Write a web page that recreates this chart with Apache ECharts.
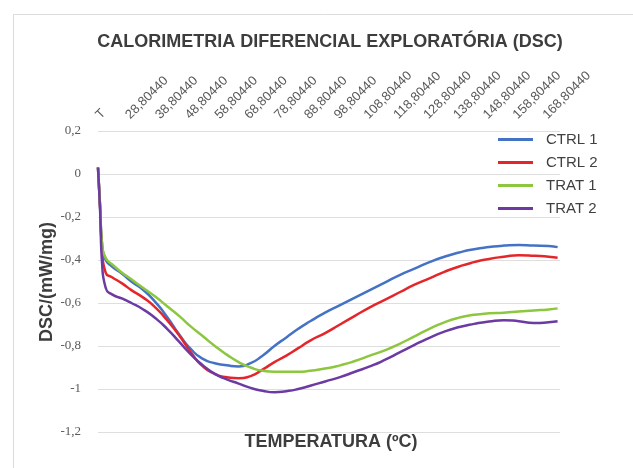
<!DOCTYPE html>
<html>
<head>
<meta charset="utf-8">
<script src="https://cdn.jsdelivr.net/npm/echarts@6/dist/echarts.min.js"></script>
<style>
html,body{margin:0;padding:0;background:#fff;}
#chart{width:633px;height:468px;}
</style>
</head>
<body>
<div id="chart"></div>
<script>
// ---- data ----
const T0 = 18.8044; // first temperature of the run (label "T")
const tickLabels = ['T','28,80440','38,80440','48,80440','58,80440','68,80440','78,80440','88,80440',
  '98,80440','108,80440','118,80440','128,80440','138,80440','148,80440','158,80440','168,80440'];
const seriesNames = ['CTRL 1','CTRL 2','TRAT 1','TRAT 2'];
const temperatures = [18.8,19.5,20.2,21.4,23.5,27,30,34,38,42,46,50,54,58,62,66,70,74,78,82,86,90,95,100,105,110,115,120,125,130,135,140,145,150,155,160,165,170,173];
const ctrl1 = [0.03,-0.15,-0.33,-0.40,-0.43,-0.465,-0.50,-0.54,-0.595,-0.665,-0.745,-0.815,-0.86,-0.88,-0.89,-0.895,-0.88,-0.845,-0.80,-0.76,-0.72,-0.685,-0.645,-0.61,-0.575,-0.54,-0.505,-0.47,-0.44,-0.41,-0.385,-0.365,-0.35,-0.34,-0.333,-0.33,-0.333,-0.335,-0.34];
const ctrl2 = [0.03,-0.15,-0.36,-0.46,-0.48,-0.51,-0.54,-0.575,-0.62,-0.68,-0.75,-0.83,-0.895,-0.93,-0.945,-0.95,-0.94,-0.91,-0.875,-0.845,-0.81,-0.775,-0.74,-0.70,-0.66,-0.62,-0.585,-0.55,-0.515,-0.485,-0.455,-0.43,-0.41,-0.395,-0.385,-0.378,-0.38,-0.385,-0.39];
const trat1 = [0.03,-0.15,-0.33,-0.39,-0.42,-0.46,-0.49,-0.53,-0.57,-0.615,-0.66,-0.71,-0.755,-0.80,-0.84,-0.875,-0.90,-0.915,-0.92,-0.92,-0.92,-0.915,-0.905,-0.89,-0.87,-0.845,-0.82,-0.79,-0.755,-0.72,-0.69,-0.668,-0.655,-0.648,-0.645,-0.64,-0.635,-0.63,-0.625];
const trat2 = [0.03,-0.17,-0.42,-0.53,-0.56,-0.58,-0.60,-0.63,-0.67,-0.72,-0.78,-0.84,-0.89,-0.93,-0.955,-0.975,-0.995,-1.008,-1.015,-1.01,-1.0,-0.985,-0.965,-0.945,-0.92,-0.895,-0.865,-0.83,-0.795,-0.762,-0.733,-0.712,-0.697,-0.686,-0.68,-0.685,-0.693,-0.69,-0.685];
const colors = ['#4472C4','#E4262B','#8DC63F','#6C3AA3'];

const allValues = [ctrl1, ctrl2, trat1, trat2];
const chart = echarts.init(document.getElementById('chart'), null, {renderer:'canvas'});

const series = allValues.map((vals, i) => ({
  name: seriesNames[i],
  type: 'line',
  data: temperatures.map((t, k) => [t - T0, vals[k]]),
  showSymbol: false,
  symbol: 'none',
  smooth: 0.6,
  lineStyle: {width: 2.5, color: colors[i]},
  itemStyle: {color: colors[i]},
  emphasis: {disabled: true}
}));

chart.setOption({
  animation: false,
  backgroundColor: '#ffffff',
  color: colors,
  grid: {left: 98, top: 131, width: 462, height: 301, containLabel: false},
  xAxis: {
    type: 'value',
    position: 'top',
    min: 0, max: 155, interval: 10,
    axisLine: {show: false},
    axisTick: {show: false},
    splitLine: {show: false},
    axisLabel: {
      rotate: 45, margin: 14,
      fontFamily: 'Liberation Sans, Arial, sans-serif', fontSize: 13, color: '#595959',
      showMaxLabel: false,
      formatter: (v) => { const idx = Math.round(v / 10); return tickLabels[idx] !== undefined ? tickLabels[idx] : ''; }
    }
  },
  yAxis: {
    type: 'value',
    min: -1.2, max: 0.2, interval: 0.2,
    axisLine: {show: false},
    axisTick: {show: false},
    splitLine: {show: true, lineStyle: {color: '#dedede', width: 1}},
    axisLabel: {
      margin: 17,
      fontFamily: 'Liberation Serif, Times New Roman, serif', fontSize: 13, color: '#595959',
      formatter: (v) => { const r = Math.round(v * 10) / 10; return String(r).replace('.', ','); }
    }
  },
  legend: {
    orient: 'vertical',
    left: 493, top: 127,
    icon: 'rect',
    itemWidth: 35, itemHeight: 3,
    itemGap: 8,
    data: seriesNames,
    textStyle: {fontFamily: 'Liberation Sans, Arial, sans-serif', fontSize: 15, color: '#404040', padding: [0,0,0,8]}
  },
  graphic: [
    {type: 'rect', silent: true, z: -1, shape: {x: 13.5, y: 14.5, width: 700, height: 700}, style: {fill: 'none', stroke: '#dcdcdc', lineWidth: 1}},
    {type: 'text', silent: true, x: 330, y: 42, style: {text: 'CALORIMETRIA DIFERENCIAL EXPLORATÓRIA (DSC)', fontFamily: 'Liberation Sans, Arial, sans-serif', fontWeight: 'bold', fontSize: 18, fill: '#3d3d3d', align: 'center', verticalAlign: 'middle'}},
    {type: 'text', silent: true, x: 331, y: 442, style: {text: 'TEMPERATURA (ºC)', fontFamily: 'Liberation Sans, Arial, sans-serif', fontWeight: 'bold', fontSize: 18, fill: '#3d3d3d', align: 'center', verticalAlign: 'middle'}},
    {type: 'text', silent: true, x: 47, y: 282, rotation: Math.PI / 2, style: {text: 'DSC/(mW/mg)', fontFamily: 'Liberation Sans, Arial, sans-serif', fontWeight: 'bold', fontSize: 18, fill: '#3d3d3d', align: 'center', verticalAlign: 'middle'}}
  ],
  series: series
});
</script>
</body>
</html>
